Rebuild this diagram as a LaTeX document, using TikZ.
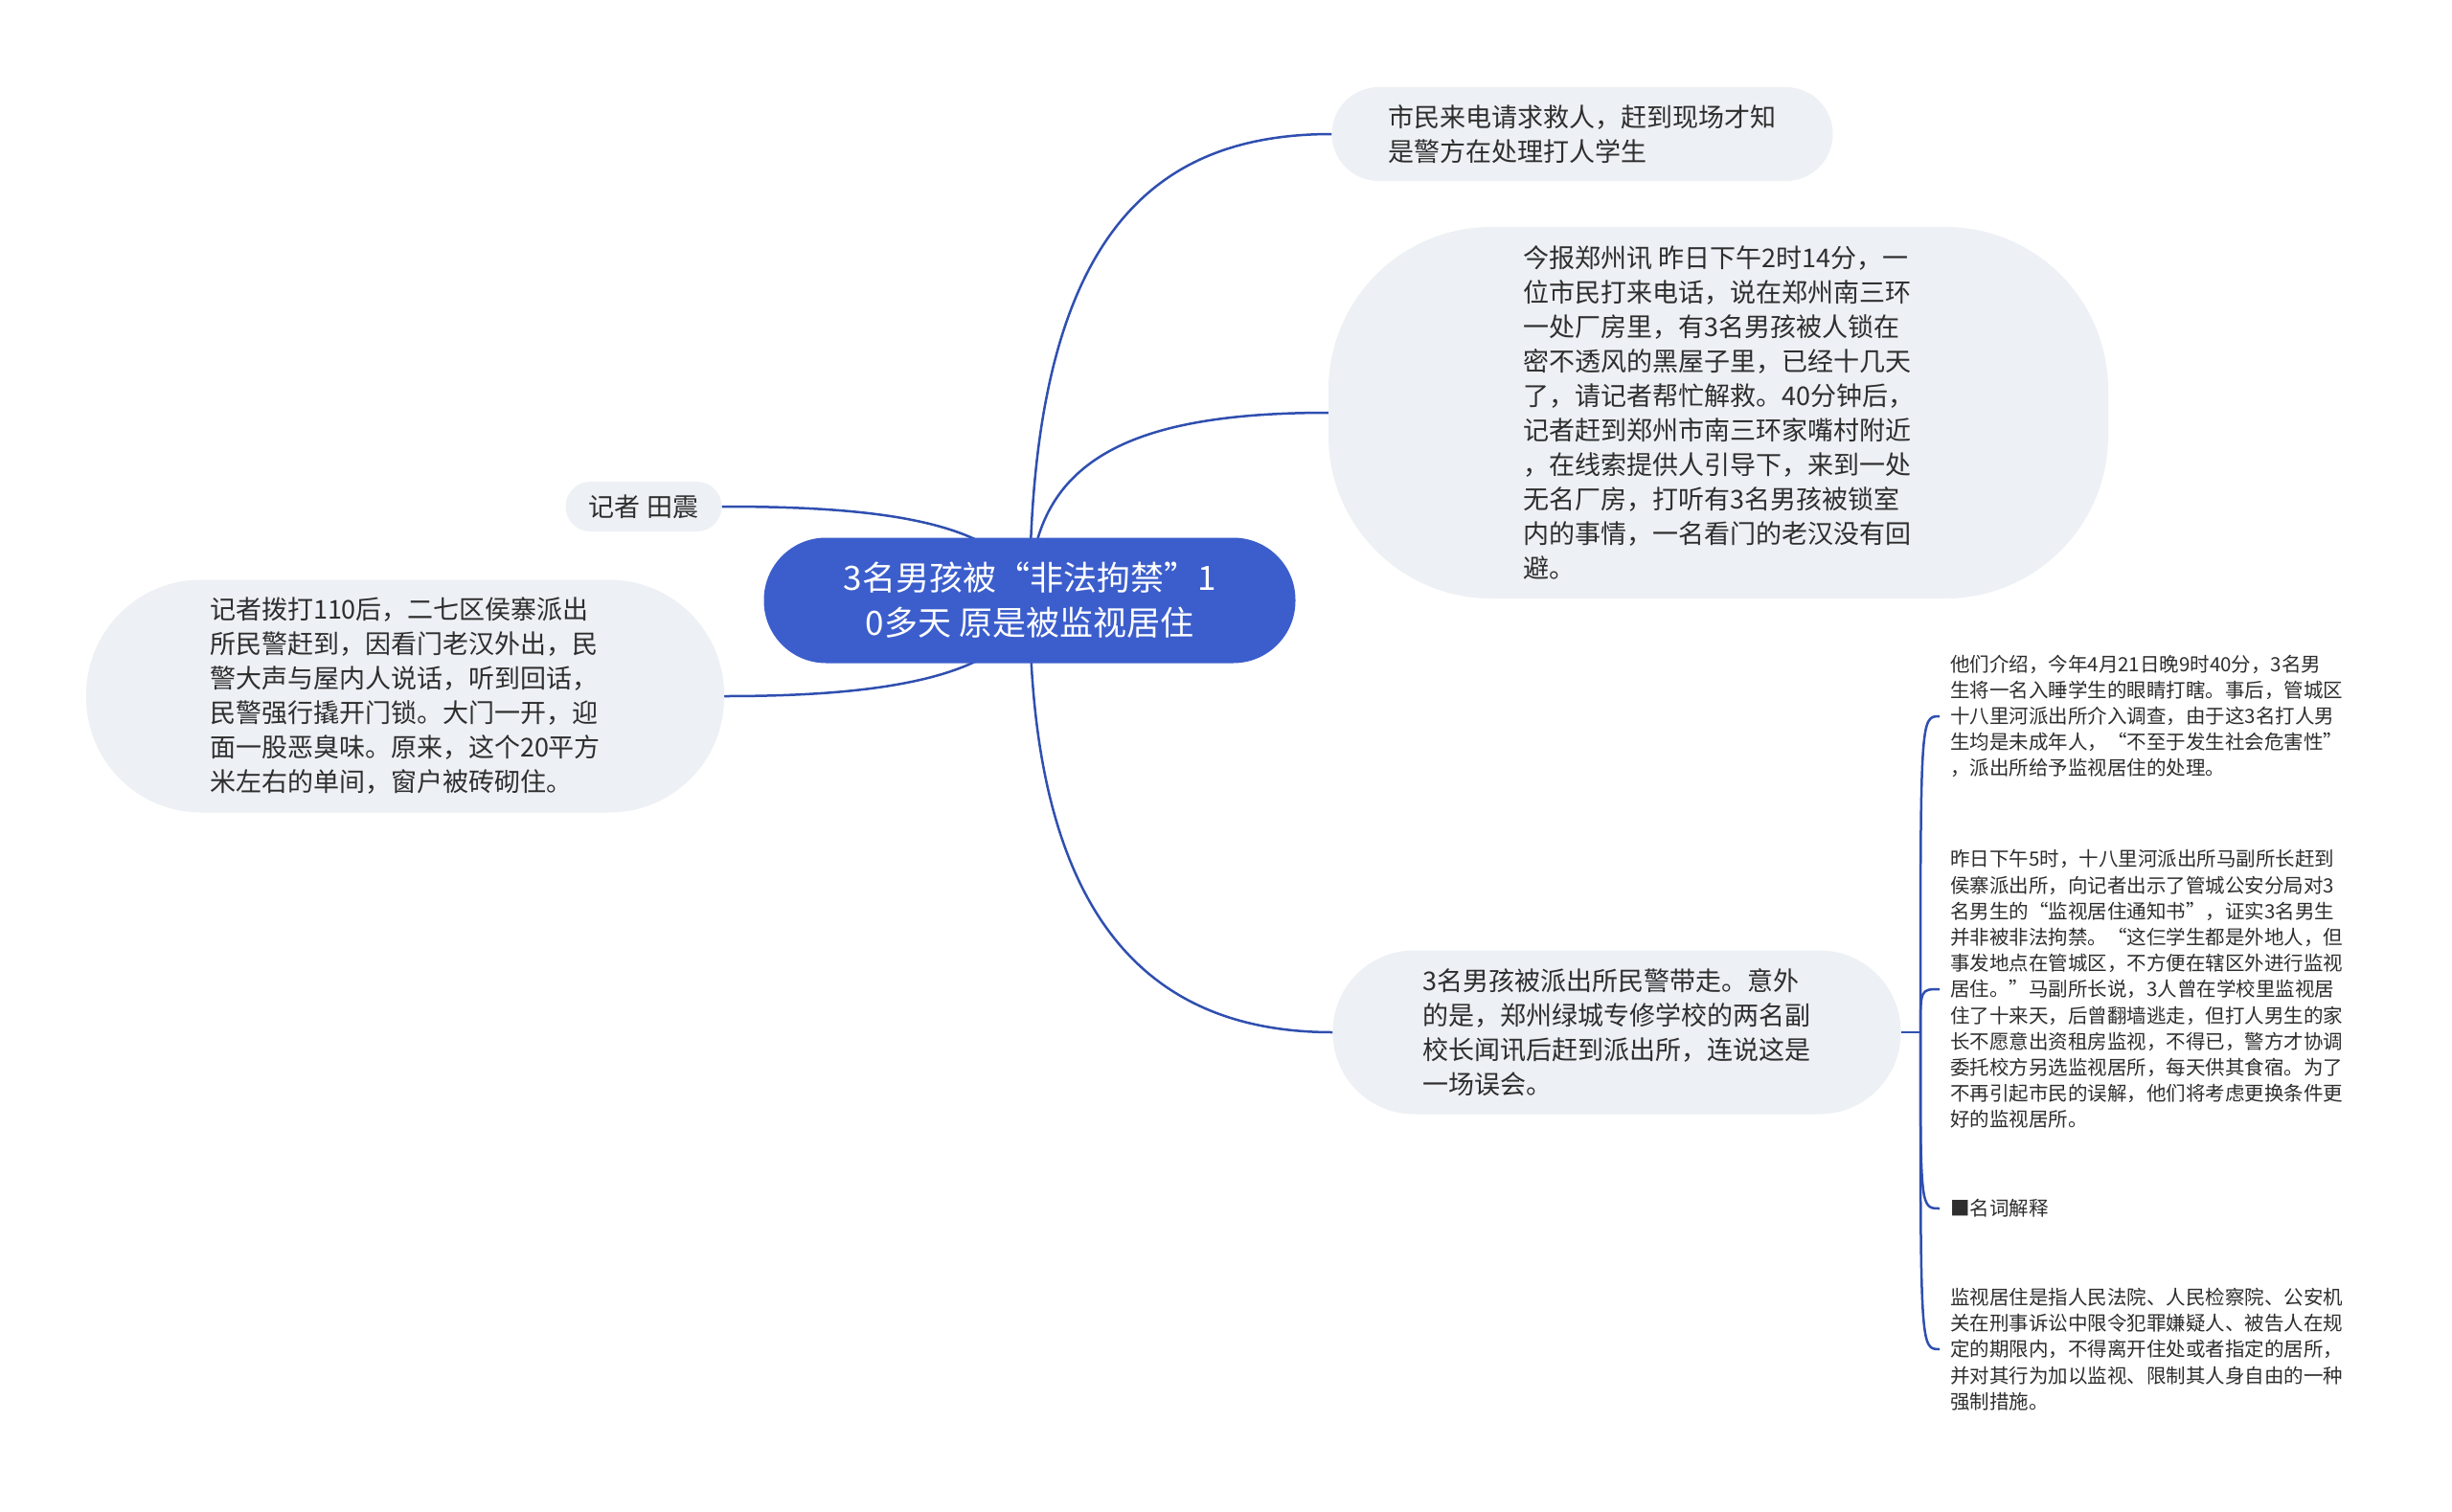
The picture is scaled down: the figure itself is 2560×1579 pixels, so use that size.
\documentclass[tikz,border=0pt]{standalone}
\usepackage{fontspec}
\setmainfont{Noto Sans CJK SC}
\usetikzlibrary{backgrounds,calc}
\definecolor{rootblue}{HTML}{3C5ECC}
\definecolor{linkblue}{HTML}{2F4FB0}
\definecolor{boxgrey}{HTML}{EDF0F4}
\definecolor{ink}{HTML}{2E2E2E}
\begin{document}
\begin{tikzpicture}[x=1pt,y=-1pt,
  topic/.style={fill=boxgrey, text=ink, align=left, inner sep=0pt, font=\fontsize{27}{36}\selectfont},
  leaf/.style={text=ink, align=left, anchor=west, inner sep=11pt, font=\fontsize{20.5}{27.2}\selectfont},
  link/.style={draw=linkblue, line width=2.5pt}]
\path[use as bounding box] (0,0) rectangle (2560,1579);

\node[fill=rootblue, text=white, align=center, inner sep=0pt, minimum width=555pt, minimum height=131pt, rounded corners=65pt, font=\fontsize{35}{47}\selectfont] (root) at (1075,627) {3名男孩被“非法拘禁”1\\0多天 原是被监视居住};

\node[topic, minimum width=523pt, minimum height=98pt, rounded corners=49pt] (n1) at (1652,140) {市民来电请求救人，赶到现场才知\\是警方在处理打人学生};

\node[topic, minimum width=814pt, minimum height=388pt, rounded corners=170pt] (n2) at (1794,431) {今报郑州讯 昨日下午2时14分，一\\位市民打来电话，说在郑州南三环\\一处厂房里，有3名男孩被人锁在\\密不透风的黑屋子里，已经十几天\\了，请记者帮忙解救。40分钟后，\\记者赶到郑州市南三环家嘴村附近\\，在线索提供人引导下，来到一处\\无名厂房，打听有3名男孩被锁室\\内的事情，一名看门的老汉没有回\\避。};

\node[topic, minimum width=163pt, minimum height=52pt, rounded corners=26pt] (n3) at (672,529) {记者 田震};

\node[topic, minimum width=666pt, minimum height=243pt, rounded corners=120pt] (n4) at (423,727) {记者拨打110后，二七区侯寨派出\\所民警赶到，因看门老汉外出，民\\警大声与屋内人说话，听到回话，\\民警强行撬开门锁。大门一开，迎\\面一股恶臭味。原来，这个20平方\\米左右的单间，窗户被砖砌住。};

\node[topic, minimum width=593pt, minimum height=171pt, rounded corners=85pt] (n5) at (1688,1078) {3名男孩被派出所民警带走。意外\\的是，郑州绿城专修学校的两名副\\校长闻讯后赶到派出所，连说这是\\一场误会。};

\coordinate (J) at (2005,1078);

\node[leaf] (l1) at (2025,748) {他们介绍，今年4月21日晚9时40分，3名男\\生将一名入睡学生的眼睛打瞎。事后，管城区\\十八里河派出所介入调查，由于这3名打人男\\生均是未成年人，“不至于发生社会危害性”\\，派出所给予监视居住的处理。};

\node[leaf] (l2) at (2025,1033) {昨日下午5时，十八里河派出所马副所长赶到\\侯寨派出所，向记者出示了管城公安分局对3\\名男生的“监视居住通知书”，证实3名男生\\并非被非法拘禁。“这仨学生都是外地人，但\\事发地点在管城区，不方便在辖区外进行监视\\居住。”马副所长说，3人曾在学校里监视居\\住了十来天，后曾翻墙逃走，但打人男生的家\\长不愿意出资租房监视，不得已，警方才协调\\委托校方另选监视居所，每天供其食宿。为了\\不再引起市民的误解，他们将考虑更换条件更\\好的监视居所。};

\node[leaf] (l3) at (2025,1262) {■名词解释};

\node[leaf] (l4) at (2025,1409) {监视居住是指人民法院、人民检察院、公安机\\关在刑事诉讼中限令犯罪嫌疑人、被告人在规\\定的期限内，不得离开住处或者指定的居所，\\并对其行为加以监视、限制其人身自由的一种\\强制措施。};

\begin{scope}[on background layer]
\fill[white] (0,0) rectangle (2560,1579);
\draw[link] (root.center) .. controls (1075,250) and (1200,140) .. (n1.west);
\draw[link] (root.center) .. controls (1075,480) and (1180,431) .. (n2.west);
\draw[link] (root.center) .. controls (1075,960) and (1200,1078) .. (n5.west);
\draw[link] (root.center) .. controls (1060,540) and (900,529) .. (n3.east);
\draw[link] (root.center) .. controls (1060,713) and (900,727) .. (n4.east);
\draw[link] (n5.east) -- (J);
\foreach \l in {l1,l2,l3,l4}
  \draw[link] (J) .. controls (J |- \l.west) and (J |- \l.west) .. (\l.west);
\end{scope}
\end{tikzpicture}
\end{document}
